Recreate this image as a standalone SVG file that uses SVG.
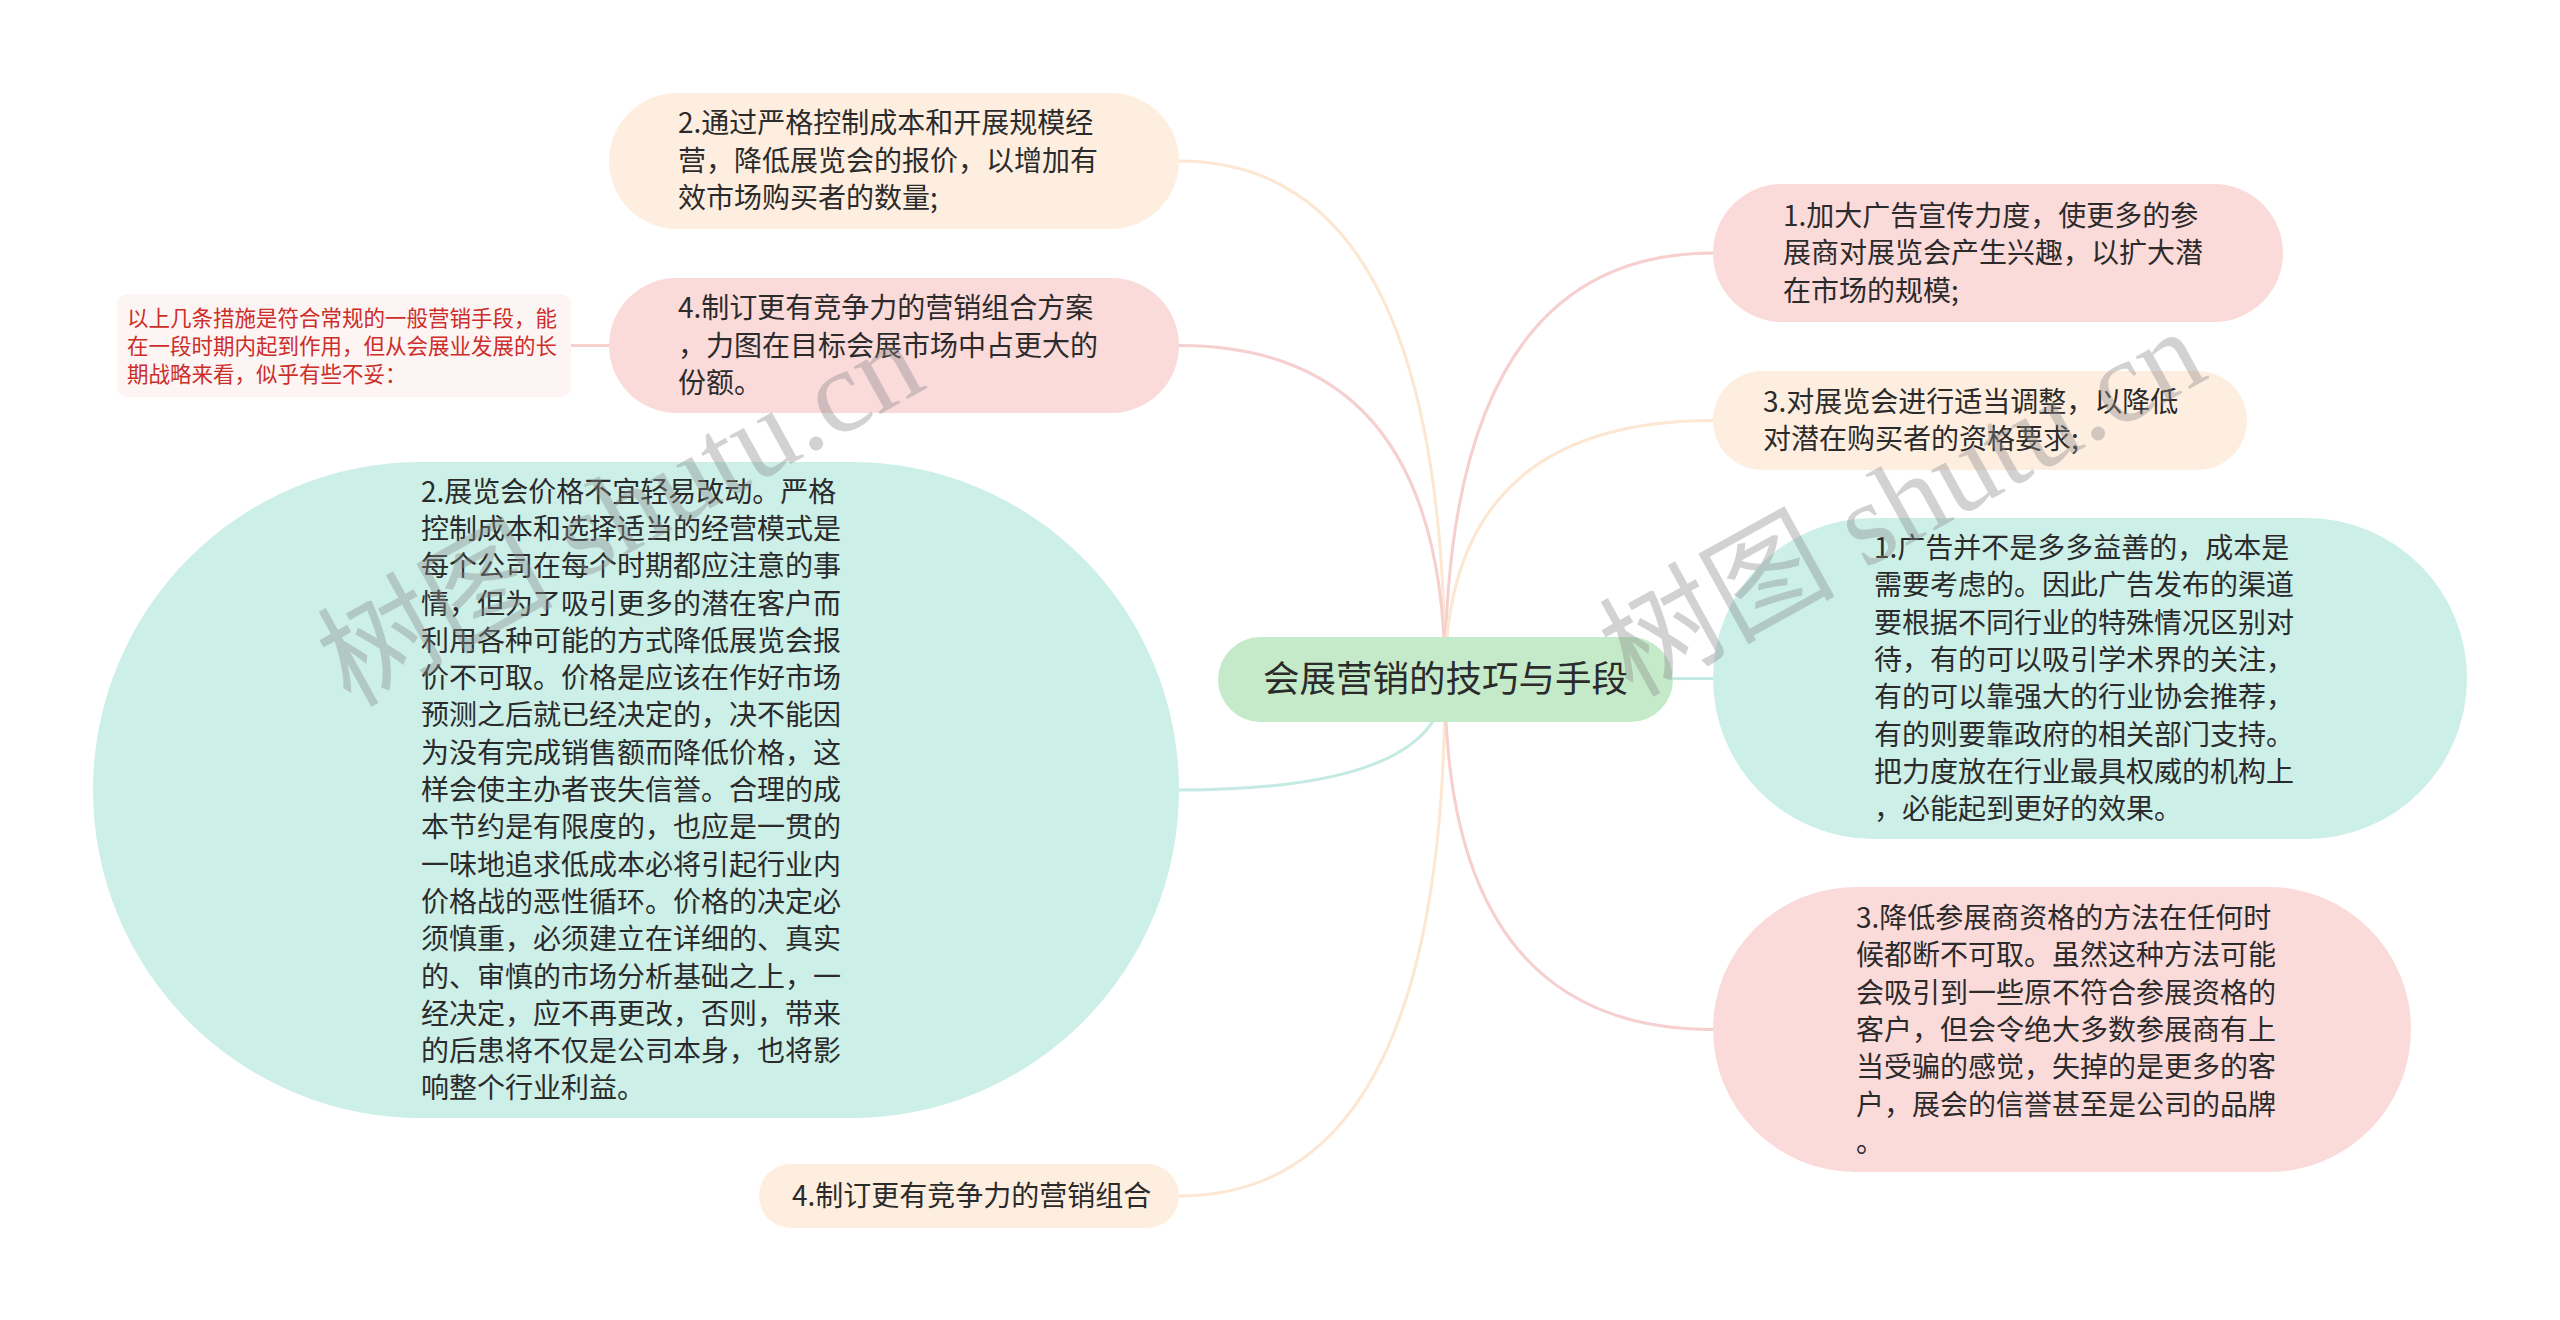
<svg xmlns="http://www.w3.org/2000/svg" width="2560" height="1320" viewBox="0 0 2560 1320">
<style>
.t{font-family:"Noto Sans CJK SC","Microsoft YaHei",sans-serif;font-size:28px;fill:#2b2b2b}
.c{stroke-width:3;fill:none}
.pk{fill:#fbdada}.pe{fill:#feeee0}.tl{fill:#ccefe8}
.spk{stroke:#f6cfcf}.spe{stroke:#fce7d2}.stl{stroke:#c3ebe3}
.wm{font-family:"Liberation Serif","Noto Sans CJK SC",serif;font-size:118px;fill:#8a8a8a;opacity:0.38}
</style>
<rect width="2560" height="1320" fill="#ffffff"/>
<g id="connectors">
<path class="c spe" d="M1445 679 Q1445 161 1179 161"/>
<path class="c spk" d="M1445 679 Q1445 345.5 1179 345.5"/>
<path class="c stl" d="M1445 679 Q1445 790 1179 790"/>
<path class="c spe" d="M1445 679 Q1445 1196 1179 1196"/>
<path class="c spk" d="M1445 679 Q1445 253 1713 253"/>
<path class="c spe" d="M1445 679 Q1445 420.5 1713 420.5"/>
<path class="c stl" d="M1445 679 Q1445 678.5 1713 678.5"/>
<path class="c spk" d="M1445 679 Q1445 1029.5 1713 1029.5"/>
<path class="c spk" d="M571 345.5 L609 345.5"/>
</g>
<g id="center">
<rect x="1218" y="637" width="455" height="85" rx="42.5" fill="#c5eac9"/>
<text class="t" x="1445.5" y="692" text-anchor="middle" style="font-size:36.5px">会展营销的技巧与手段</text>
</g>
<g id="nodeA">
<rect class="pe" x="609" y="93" width="570" height="136" rx="68"/>
<text class="t" x="678"><tspan x="678" y="133">2.通过严格控制成本和开展规模经</tspan><tspan x="678" y="170.5">营，降低展览会的报价，以增加有</tspan><tspan x="678" y="208">效市场购买者的数量;</tspan></text>
</g>
<g id="nodeB">
<rect class="pk" x="609" y="278" width="570" height="135" rx="67.5"/>
<text class="t"><tspan x="678" y="318">4.制订更有竞争力的营销组合方案</tspan><tspan x="678" y="355.5">，力图在目标会展市场中占更大的</tspan><tspan x="678" y="393">份额。</tspan></text>
</g>
<g id="note">
<rect x="117" y="294" width="454" height="103" rx="10" fill="#fdf4f4"/>
<text class="t" style="font-size:21.5px;fill:#cc2e2a"><tspan x="127" y="326">以上几条措施是符合常规的一般营销手段，能</tspan><tspan x="127" y="354">在一段时期内起到作用，但从会展业发展的长</tspan><tspan x="127" y="382">期战略来看，似乎有些不妥：</tspan></text>
</g>
<g id="nodeC">
<rect class="tl" x="93" y="462" width="1086" height="656" rx="328"/>
<text class="t"><tspan x="421" y="501.6">2.展览会价格不宜轻易改动。严格</tspan><tspan x="421" y="538.9">控制成本和选择适当的经营模式是</tspan><tspan x="421" y="576.2">每个公司在每个时期都应注意的事</tspan><tspan x="421" y="613.5">情，但为了吸引更多的潜在客户而</tspan><tspan x="421" y="650.8">利用各种可能的方式降低展览会报</tspan><tspan x="421" y="688.1">价不可取。价格是应该在作好市场</tspan><tspan x="421" y="725.4">预测之后就已经决定的，决不能因</tspan><tspan x="421" y="762.7">为没有完成销售额而降低价格，这</tspan><tspan x="421" y="800">样会使主办者丧失信誉。合理的成</tspan><tspan x="421" y="837.3">本节约是有限度的，也应是一贯的</tspan><tspan x="421" y="874.6">一味地追求低成本必将引起行业内</tspan><tspan x="421" y="911.9">价格战的恶性循环。价格的决定必</tspan><tspan x="421" y="949.2">须慎重，必须建立在详细的、真实</tspan><tspan x="421" y="986.5">的、审慎的市场分析基础之上，一</tspan><tspan x="421" y="1023.8">经决定，应不再更改，否则，带来</tspan><tspan x="421" y="1061.1">的后患将不仅是公司本身，也将影</tspan><tspan x="421" y="1098.4">响整个行业利益。</tspan></text>
</g>
<g id="nodeD">
<rect class="pe" x="759" y="1164" width="420" height="64" rx="32"/>
<text class="t" x="792" y="1206">4.制订更有竞争力的营销组合</text>
</g>
<g id="nodeR1">
<rect class="pk" x="1713" y="184" width="570" height="138" rx="69"/>
<text class="t"><tspan x="1783" y="225.5">1.加大广告宣传力度，使更多的参</tspan><tspan x="1783" y="263">展商对展览会产生兴趣，以扩大潜</tspan><tspan x="1783" y="300.5">在市场的规模;</tspan></text>
</g>
<g id="nodeR2">
<rect class="pe" x="1713" y="371" width="534" height="99" rx="49.5"/>
<text class="t"><tspan x="1763" y="411.75">3.对展览会进行适当调整，以降低</tspan><tspan x="1763" y="449.25">对潜在购买者的资格要求;</tspan></text>
</g>
<g id="nodeR3">
<rect class="tl" x="1713" y="518" width="754" height="321" rx="160.5"/>
<text class="t"><tspan x="1874" y="558">1.广告并不是多多益善的，成本是</tspan><tspan x="1874" y="595.3">需要考虑的。因此广告发布的渠道</tspan><tspan x="1874" y="632.6">要根据不同行业的特殊情况区别对</tspan><tspan x="1874" y="669.9">待，有的可以吸引学术界的关注，</tspan><tspan x="1874" y="707.2">有的可以靠强大的行业协会推荐，</tspan><tspan x="1874" y="744.5">有的则要靠政府的相关部门支持。</tspan><tspan x="1874" y="781.8">把力度放在行业最具权威的机构上</tspan><tspan x="1874" y="819.1">，必能起到更好的效果。</tspan></text>
</g>
<g id="nodeR4">
<rect class="pk" x="1713" y="887" width="698" height="285" rx="142.5"/>
<text class="t"><tspan x="1856" y="928">3.降低参展商资格的方法在任何时</tspan><tspan x="1856" y="965.3">候都断不可取。虽然这种方法可能</tspan><tspan x="1856" y="1002.6">会吸引到一些原不符合参展资格的</tspan><tspan x="1856" y="1039.9">客户，但会令绝大多数参展商有上</tspan><tspan x="1856" y="1077.2">当受骗的感觉，失掉的是更多的客</tspan><tspan x="1856" y="1114.5">户，展会的信誉甚至是公司的品牌</tspan><tspan x="1856" y="1151.8">。</tspan></text>
</g>
<g id="watermark">
<text class="wm" transform="translate(350,708) rotate(-29)">树图 shutu.cn</text>
<text class="wm" transform="translate(1632,698) rotate(-29)">树图 shutu.cn</text>
</g>
</svg>
